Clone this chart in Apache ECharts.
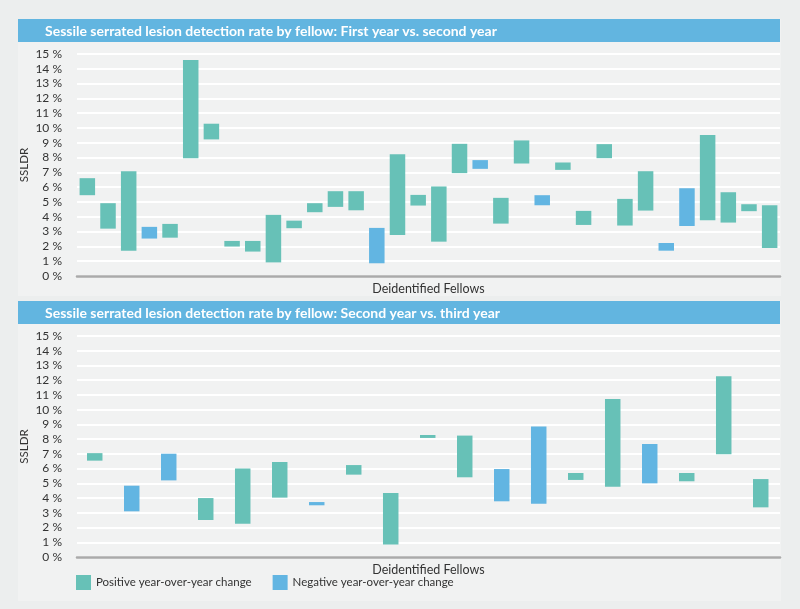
<!DOCTYPE html>
<html>
<head>
<meta charset="utf-8">
<script src="https://cdn.jsdelivr.net/npm/echarts@6/dist/echarts.min.js"></script>
<style>
html,body{margin:0;padding:0;background:#eceeee;}
#c{width:800px;height:609px;}
</style>
</head>
<body>
<div id="c"></div>
<script>
// ---- Data ----
const titleTop = 'Sessile serrated lesion detection rate by fellow: First year vs. second year';
const titleBottom = 'Sessile serrated lesion detection rate by fellow: Second year vs. third year';
const yTicks = [0,1,2,3,4,5,6,7,8,9,10,11,12,13,14,15];
const yAxisName = 'SSLDR';
const xAxisName = 'Deidentified Fellows';
const legendPositive = 'Positive year-over-year change';
const legendNegative = 'Negative year-over-year change';

// Panel 1: fellows 1..34, SSLDR (%) in first year and second year
const fellowsA = Array.from({length:34},(_,i)=>'F'+(i+1));
const firstYear  = [5.46,3.20,1.71,3.32,2.59,7.96,9.23,1.99,1.65,0.92,3.23,4.31,4.67,4.44,3.25,2.77,4.76,2.32,6.95,7.83,3.54,7.60,5.46,7.17,3.45,7.96,3.41,4.42,2.23,5.93,3.77,3.61,4.38,1.89];
const secondYear = [6.61,4.92,7.08,2.53,3.52,14.6,10.29,2.37,2.37,4.13,3.74,4.92,5.73,5.73,0.86,8.23,5.48,6.05,8.93,7.24,5.28,9.16,4.78,7.67,4.40,8.91,5.21,7.08,1.71,3.38,9.52,5.66,4.85,4.78];

// Panel 2: fellows 1..19, SSLDR (%) in second year and third year
const fellowsB = Array.from({length:19},(_,i)=>'F'+(i+1));
const secondYearB = [6.54,4.84,7.01,2.51,2.26,4.03,3.73,5.59,0.84,8.08,5.41,5.97,8.85,5.23,4.77,7.67,5.14,6.97,3.37];
const thirdYear   = [7.05,3.10,5.20,4.00,6.00,6.45,3.51,6.24,4.34,8.28,8.24,3.78,3.62,5.70,10.72,5.00,5.70,12.26,5.29];

// ---- Styles ----
const GREEN = '#67c1b7';
const BLUE = '#62b5e2';
const FONT = 'Lato, "Open Sans", sans-serif';

function buildSeries(from, to, gridIdx){
  const base = from.map((a,i)=>Math.min(a,to[i]));
  const span = from.map((a,i)=>({
    value: +(Math.abs(to[i]-a)).toFixed(2),
    itemStyle:{color: to[i]>=a ? GREEN : BLUE}
  }));
  return [
    {type:'bar', xAxisIndex:gridIdx, yAxisIndex:gridIdx, stack:'s'+gridIdx, data:base,
     itemStyle:{color:'transparent'}, barWidth:15.5, silent:true},
    {type:'bar', xAxisIndex:gridIdx, yAxisIndex:gridIdx, stack:'s'+gridIdx, data:span, barWidth:15.5}
  ];
}

const grids = [
  {left:77, right:20, top:54, height:222},
  {left:77, right:20, top:336, height:221}
];

function xAxis(cats, gridIndex){
  return {type:'category', gridIndex, data:cats,
    axisLine:{show:true, lineStyle:{color:'#aaaaaa', width:2.5}},
    axisTick:{show:false}, axisLabel:{show:false},
    name:xAxisName, nameLocation:'middle', nameGap:6, nameMoveOverlap:false,
    nameTextStyle:{color:'#333', fontSize:12.5, fontFamily:FONT}};
}
function yAxis(gridIndex){
  return {type:'value', gridIndex, min:yTicks[0], max:yTicks[yTicks.length-1], interval:1,
    axisLine:{show:false}, axisTick:{show:false},
    axisLabel:{formatter:v=>v+' %', color:'#333', fontSize:12, margin:15, fontFamily:FONT},
    splitLine:{show:true, lineStyle:{color:'#ffffff', width:2}},
    name:yAxisName, nameLocation:'middle', nameGap:47, nameRotate:90, nameMoveOverlap:false,
    nameTextStyle:{color:'#333', fontSize:11.5, fontFamily:FONT}};
}

const chart = echarts.init(document.getElementById('c'), null, {renderer:'canvas'});
chart.setOption({
  backgroundColor:'#eceeee',
  animation:false,
  textStyle:{fontFamily:FONT},
  graphic:[
    {type:'rect', shape:{x:18,y:19,width:763,height:277}, style:{fill:'#f1f2f2'}, z:-10},
    {type:'rect', shape:{x:18,y:301,width:763,height:300}, style:{fill:'#f1f2f2'}, z:-10},
    {type:'rect', shape:{x:18,y:19,width:762,height:23}, style:{fill:'#62b5e0'}, z:1},
    {type:'rect', shape:{x:18,y:301,width:762,height:23}, style:{fill:'#62b5e0'}, z:1},
    {type:'text', x:45, y:31, style:{text:titleTop, fill:'#fff', font:'bold 14px '+FONT, textVerticalAlign:'middle'}, z:2},
    {type:'text', x:45, y:313, style:{text:titleBottom, fill:'#fff', font:'bold 14px '+FONT, textVerticalAlign:'middle'}, z:2}
  ],
  legend:{
    left:71, top:570, itemWidth:15, itemHeight:15, itemGap:21, icon:'rect',
    textStyle:{color:'#333', fontSize:11.5, fontFamily:FONT},
    data:[legendPositive, legendNegative]
  },
  grid:grids,
  xAxis:[xAxis(fellowsA,0), xAxis(fellowsB,1)],
  yAxis:[yAxis(0), yAxis(1)],
  series:[
    ...buildSeries(firstYear, secondYear, 0),
    ...buildSeries(secondYearB, thirdYear, 1),
    {name:legendPositive, type:'bar', xAxisIndex:1, yAxisIndex:1, data:[], itemStyle:{color:GREEN}},
    {name:legendNegative, type:'bar', xAxisIndex:1, yAxisIndex:1, data:[], itemStyle:{color:BLUE}}
  ]
});
</script>
</body>
</html>
